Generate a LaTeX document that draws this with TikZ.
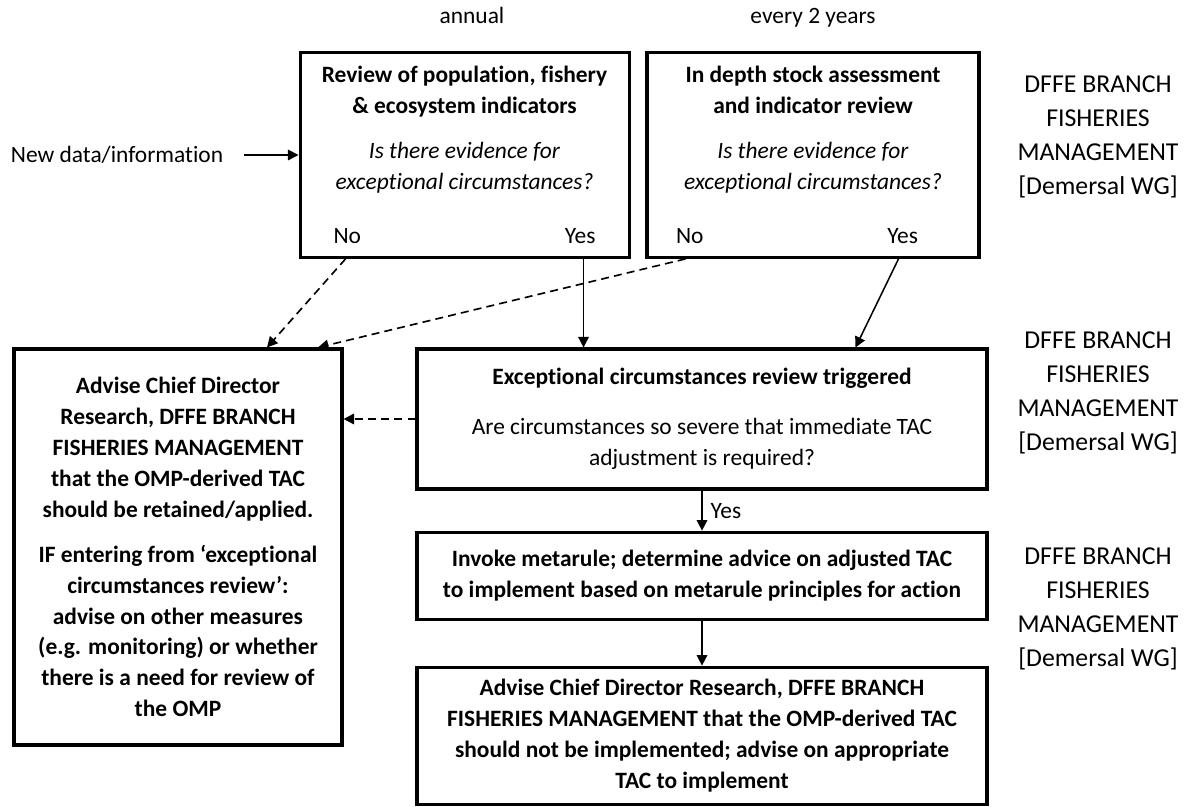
\documentclass[tikz,border=0pt]{standalone}
\usepackage{fontspec}
\setmainfont{Carlito}[Ligatures=NoCommon]
\usetikzlibrary{arrows.meta,positioning,calc}
\tikzset{
    box/.style =    {rectangle,
                    fill=white,
                    draw=black,
                    text=black,
                    line width=1.3pt,
                    align=center,
                    inner sep=0pt,
                    font=\fontsize{10}{13.2}\selectfont},
    side/.style =   {align=center,
                    text=black,
                    font=\fontsize{11}{14.5}\selectfont},
    note/.style =   {text=black,
                    font=\fontsize{10}{13.2}\selectfont},
    flow/.style =   {-{Triangle[length=4.5pt,width=4.5pt]},
                    line width=0.65pt},
    noflow/.style = {flow,
                    dash pattern=on 3.4pt off 2.2pt,
                    line width=0.7pt},
    node distance=2cm}

\begin{document}
\begin{tikzpicture}
\useasboundingbox (0,0) rectangle (17.82,-12.105);

\node[box, minimum width=4.935cm, minimum height=3.08cm] (A) at (6.968,-2.321)
    {\textbf{Review of population, fishery}\\\textbf{\& ecosystem indicators}\\[6pt]
     \textit{Is there evidence for}\\\textit{exceptional circumstances?}\\[10pt]
     \makebox[3.93cm]{No\hfill Yes}};
\node[box, minimum width=4.98cm, minimum height=3.08cm] (B) at (12.195,-2.321)
    {\textbf{In depth stock assessment}\\\textbf{and indicator review}\\[6pt]
     \textit{Is there evidence for}\\\textit{exceptional circumstances?}\\[10pt]
     \hspace*{-0.48cm}\makebox[3.63cm]{No\hfill Yes}};
\node[note, anchor=base] (annual) at (7.08,-0.36) {annual};
\node[note, anchor=base] (every)  at (12.195,-0.36) {every 2 years};
\node[note] (new)    at (1.755,-2.325) {New data/information};

\node[box, minimum width=4.92cm, minimum height=5.94cm] (C) at (2.67,-8.205)
    {\textbf{Advise Chief Director}\\\textbf{Research, DFFE BRANCH}\\
     \textbf{FISHERIES MANAGEMENT}\\\textbf{that the OMP-derived TAC}\\
     \textbf{should be retained/applied.}\\[6pt]
     \textbf{IF entering from ‘exceptional}\\\textbf{circumstances review’:}\\
     \textbf{advise on other measures}\\\textbf{(e.g. monitoring) or whether}\\
     \textbf{there is a need for review of}\\\textbf{the OMP}};
\node[box, minimum width=8.55cm, minimum height=2.1cm] (D) at (10.53,-6.285)
    {\textbf{Exceptional circumstances review triggered}\\[8pt]
     Are circumstances so severe that immediate TAC\\adjustment is required?};
\node[box, minimum width=8.55cm, minimum height=1.305cm] (E) [below of=D, node distance=2.35cm]
    {\textbf{Invoke metarule; determine advice on adjusted TAC}\\
     \textbf{to implement based on metarule principles for action}};
\node[box, minimum width=8.55cm, minimum height=2.055cm] (F) [below of=E, node distance=2.4cm]
    {\textbf{Advise Chief Director Research, DFFE BRANCH}\\
     \textbf{FISHERIES MANAGEMENT that the OMP-derived TAC}\\
     \textbf{should not be implemented; advise on appropriate}\\
     \textbf{TAC to implement}};

\node[side] (dffeA) at (16.47,-2.05)  {DFFE BRANCH\\FISHERIES\\MANAGEMENT\\{[Demersal WG]}};
\node[side] (dffeB) at (16.47,-5.895) {DFFE BRANCH\\FISHERIES\\MANAGEMENT\\{[Demersal WG]}};
\node[side] (dffeC) at (16.47,-9.135) {DFFE BRANCH\\FISHERIES\\MANAGEMENT\\{[Demersal WG]}};

\coordinate (Ano)  at ([xshift=0.705cm]A.south west);
\coordinate (Ayes) at ([xshift=4.275cm]A.south west);
\coordinate (Bno)  at ([xshift=0.6cm]B.south west);
\coordinate (Byes) at ([xshift=3.795cm]B.south west);

\path   (new)  edge [flow, shorten <=5.5pt] (new -| A.west)
        (Ano)  edge [noflow] ([xshift=1.335cm]C.north)
        (Bno)  edge [noflow] ([xshift=2.1cm]C.north)
        (Ayes) edge [flow] (Ayes |- D.north)
        (Byes) edge [flow] ([xshift=6.6cm]D.north west)
        (D.west) edge [noflow] (D.west -| C.east)
        (D)    edge [flow] node [note, right] {Yes} (E)
        (E)    edge [flow] (F);
\end{tikzpicture}
\end{document}
